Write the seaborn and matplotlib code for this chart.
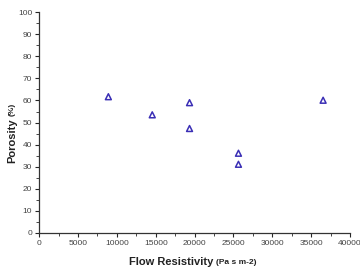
import numpy as np
import pandas as pd
import matplotlib
matplotlib.use('Agg')
import matplotlib.pyplot as plt
from matplotlib.ticker import MultipleLocator
import seaborn as sns

# Flow resistivity vs porosity samples
flow_resistivity = [8900, 14550, 19350, 19350, 25650, 25650, 36550]
porosity = [61.7, 53.5, 59.0, 47.3, 36.1, 31.1, 60.1]

df = pd.DataFrame({'Flow Resistivity': flow_resistivity, 'Porosity': porosity})

sns.set_theme(style='ticks')
plt.rcParams['font.family'] = ['Liberation Sans', 'DejaVu Sans']

fig = plt.figure(figsize=(3.6, 2.76), dpi=100)
ax = fig.add_axes([0.109, 0.156, 0.863, 0.80])

sns.scatterplot(data=df, x='Flow Resistivity', y='Porosity', marker='^', s=18,
                facecolors='none', edgecolor='#3b2fb5', linewidth=1.1, ax=ax)

ax.set_xlim(0, 40000)
ax.set_ylim(0, 100)
ax.xaxis.set_major_locator(MultipleLocator(5000))
ax.xaxis.set_minor_locator(MultipleLocator(2500))
ax.yaxis.set_major_locator(MultipleLocator(10))
ax.yaxis.set_minor_locator(MultipleLocator(5))
ax.tick_params(which='major', length=3, width=0.8, labelsize=6, labelcolor='#444444', pad=2)
ax.tick_params(which='minor', length=2, width=0.6)
for s in ['left', 'bottom']:
    ax.spines[s].set_linewidth(0.9)
    ax.spines[s].set_color('#333333')
sns.despine(ax=ax)
ax.set_xlabel('')
ax.set_ylabel('')

# axis titles with smaller unit text
fig.text(213 / 360, 1 - 262 / 276, 'Flow Resistivity', ha='right', va='center',
         fontsize=8, fontweight='bold', color='#222222')
fig.text(216 / 360, 1 - 262 / 276, '(Pa s m-2)', ha='left', va='center',
         fontsize=6, fontweight='bold', color='#222222')
fig.text(12 / 360, 1 - 118 / 276, 'Porosity', rotation=90, ha='center', va='top',
         fontsize=8, fontweight='bold', color='#222222')
fig.text(12 / 360, 1 - 116 / 276, '(%)', rotation=90, ha='center', va='bottom',
         fontsize=6, fontweight='bold', color='#222222')

fig.savefig('out.png', dpi=100)
